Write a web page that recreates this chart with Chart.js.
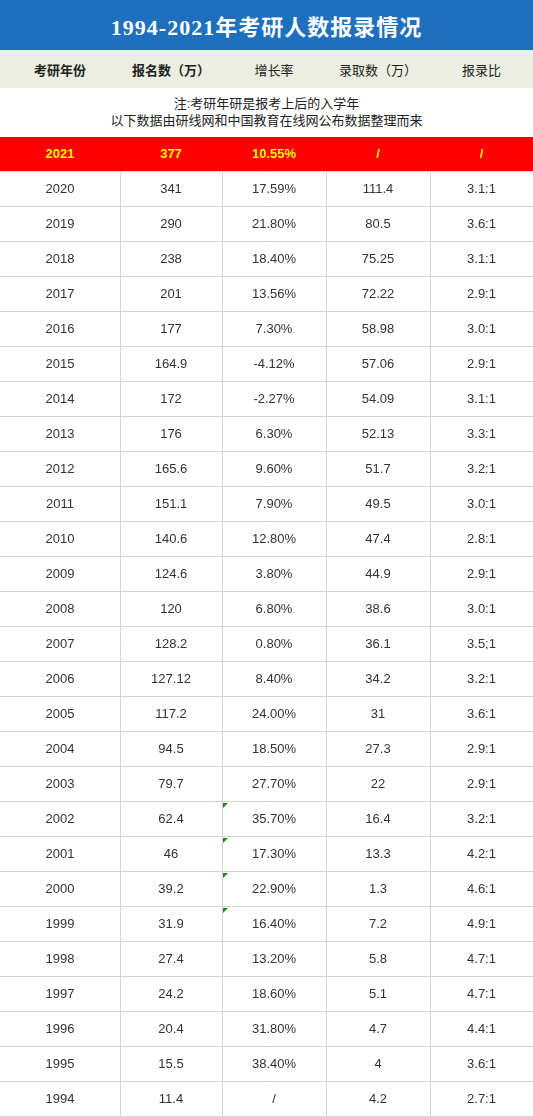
<!DOCTYPE html>
<html><head><meta charset="utf-8">
<script src="https://cdn.jsdelivr.net/npm/chart.js@4"></script>
<style>
body{margin:0;width:533px;height:1117px;overflow:hidden;font-family:"Liberation Sans","Noto Sans CJK SC",sans-serif;background:#fff}
#title{height:50px;background:#1f6fbf;color:#fff;font:bold 22px "Liberation Serif","Noto Sans CJK SC",serif;display:flex;align-items:center;justify-content:center;letter-spacing:1px}
#head{height:38px;background:#ebeee0;display:flex;font-size:13px;color:#222}
#head div{display:flex;align-items:center;justify-content:center}
#note{height:49px;font-size:13px;color:#222;text-align:center;line-height:17px;padding-top:7px;box-sizing:border-box}
#wrap{position:absolute;left:0;top:137px;width:533px;height:980px}
</style></head><body>
<div id="title">1994-2021年考研人数报录情况</div>
<div id="head"></div>
<div id="note">注:考研年研是报考上后的入学年<br>以下数据由研线网和中国教育在线网公布数据整理而来</div>
<div id="wrap"><canvas id="c"></canvas></div>
<script>
const headers = ["考研年份", "报名数（万）", "增长率", "录取数（万）", "报录比"];
const years = ["2021","2020","2019","2018","2017","2016","2015","2014","2013","2012","2011","2010","2009","2008","2007","2006","2005","2004","2003","2002","2001","2000","1999","1998","1997","1996","1995","1994"];
const applicants = ["377","341","290","238","201","177","164.9","172","176","165.6","151.1","140.6","124.6","120","128.2","127.12","117.2","94.5","79.7","62.4","46","39.2","31.9","27.4","24.2","20.4","15.5","11.4"];
const growth = ["10.55%","17.59%","21.80%","18.40%","13.56%","7.30%","-4.12%","-2.27%","6.30%","9.60%","7.90%","12.80%","3.80%","6.80%","0.80%","8.40%","24.00%","18.50%","27.70%","35.70%","17.30%","22.90%","16.40%","13.20%","18.60%","31.80%","38.40%","/"];
const admitted = ["/","111.4","80.5","75.25","72.22","58.98","57.06","54.09","52.13","51.7","49.5","47.4","44.9","38.6","36.1","34.2","31","27.3","22","16.4","13.3","1.3","7.2","5.8","5.1","4.7","4","4.2"];
const ratio = ["/","3.1:1","3.6:1","3.1:1","2.9:1","3.0:1","2.9:1","3.1:1","3.3:1","3.2:1","3.0:1","2.8:1","2.9:1","3.0:1","3.5;1","3.2:1","3.6:1","2.9:1","2.9:1","3.2:1","4.2:1","4.6:1","4.9:1","4.7:1","4.7:1","4.4:1","3.6:1","2.7:1"];
const flagged = ["2002","2001","2000","1999"];

const colEdges = [0, 120, 222, 326, 430, 533];
const head = document.getElementById("head");
headers.forEach((h, i) => {
  const d = document.createElement("div");
  d.style.width = (colEdges[i + 1] - colEdges[i]) + "px";
  if (i < 2) d.style.fontWeight = "bold";
  d.textContent = h;
  head.appendChild(d);
});

const columns = [years, applicants, growth, admitted, ratio];
const points = [];
columns.forEach((col, ci) => col.forEach((v, ri) => points.push({ x: (colEdges[ci] + colEdges[ci + 1]) / 2, y: ri + 0.5, t: v, ci: ci })));

const tablePlugin = {
  id: "table",
  beforeDatasetsDraw(chart) {
    const { ctx, scales: { x, y } } = chart;
    ctx.save();
    ctx.fillStyle = "#ff0000";
    ctx.fillRect(x.getPixelForValue(0), y.getPixelForValue(0), x.getPixelForValue(533) - x.getPixelForValue(0), y.getPixelForValue(1) - y.getPixelForValue(0));
    ctx.strokeStyle = "#d4d4d4";
    ctx.lineWidth = 1;
    for (let r = 1; r <= years.length; r++) {
      const py = Math.round(y.getPixelForValue(r)) - 0.5;
      ctx.beginPath(); ctx.moveTo(0, py); ctx.lineTo(533, py); ctx.stroke();
    }
    colEdges.slice(1, -1).forEach(e => {
      const px = Math.round(x.getPixelForValue(e)) + 0.5;
      ctx.beginPath(); ctx.moveTo(px, y.getPixelForValue(1)); ctx.lineTo(px, y.getPixelForValue(years.length)); ctx.stroke();
    });
    ctx.fillStyle = "#1a8a1a";
    flagged.forEach(yr => {
      const r = years.indexOf(yr);
      const px = x.getPixelForValue(colEdges[2]) + 1, py = y.getPixelForValue(r) + 1;
      ctx.beginPath(); ctx.moveTo(px, py); ctx.lineTo(px + 5, py); ctx.lineTo(px, py + 5); ctx.fill();
    });
    ctx.restore();
  },
  afterDatasetsDraw(chart) {
    const { ctx, scales: { x, y } } = chart;
    ctx.save();
    ctx.textAlign = "center";
    ctx.textBaseline = "middle";
    points.forEach(p => {
      const first = p.y < 1;
      ctx.fillStyle = first ? "#ffff00" : "#333";
      ctx.font = (first ? "bold " : "") + "13px 'Liberation Sans', sans-serif";
      ctx.fillText(p.t, x.getPixelForValue(p.x), y.getPixelForValue(p.y));
    });
    ctx.restore();
  }
};

new Chart(document.getElementById("c"), {
  type: "scatter",
  data: { datasets: [{ data: points, pointRadius: 0, pointHoverRadius: 0 }] },
  options: {
    responsive: true, maintainAspectRatio: false, animation: false,
    layout: { padding: 0 },
    plugins: { legend: { display: false }, tooltip: { enabled: false } },
    scales: {
      x: { type: "linear", min: 0, max: 533, display: false },
      y: { type: "linear", min: 0, max: years.length, reverse: true, display: false }
    }
  },
  plugins: [tablePlugin]
});
</script>
</body></html>
